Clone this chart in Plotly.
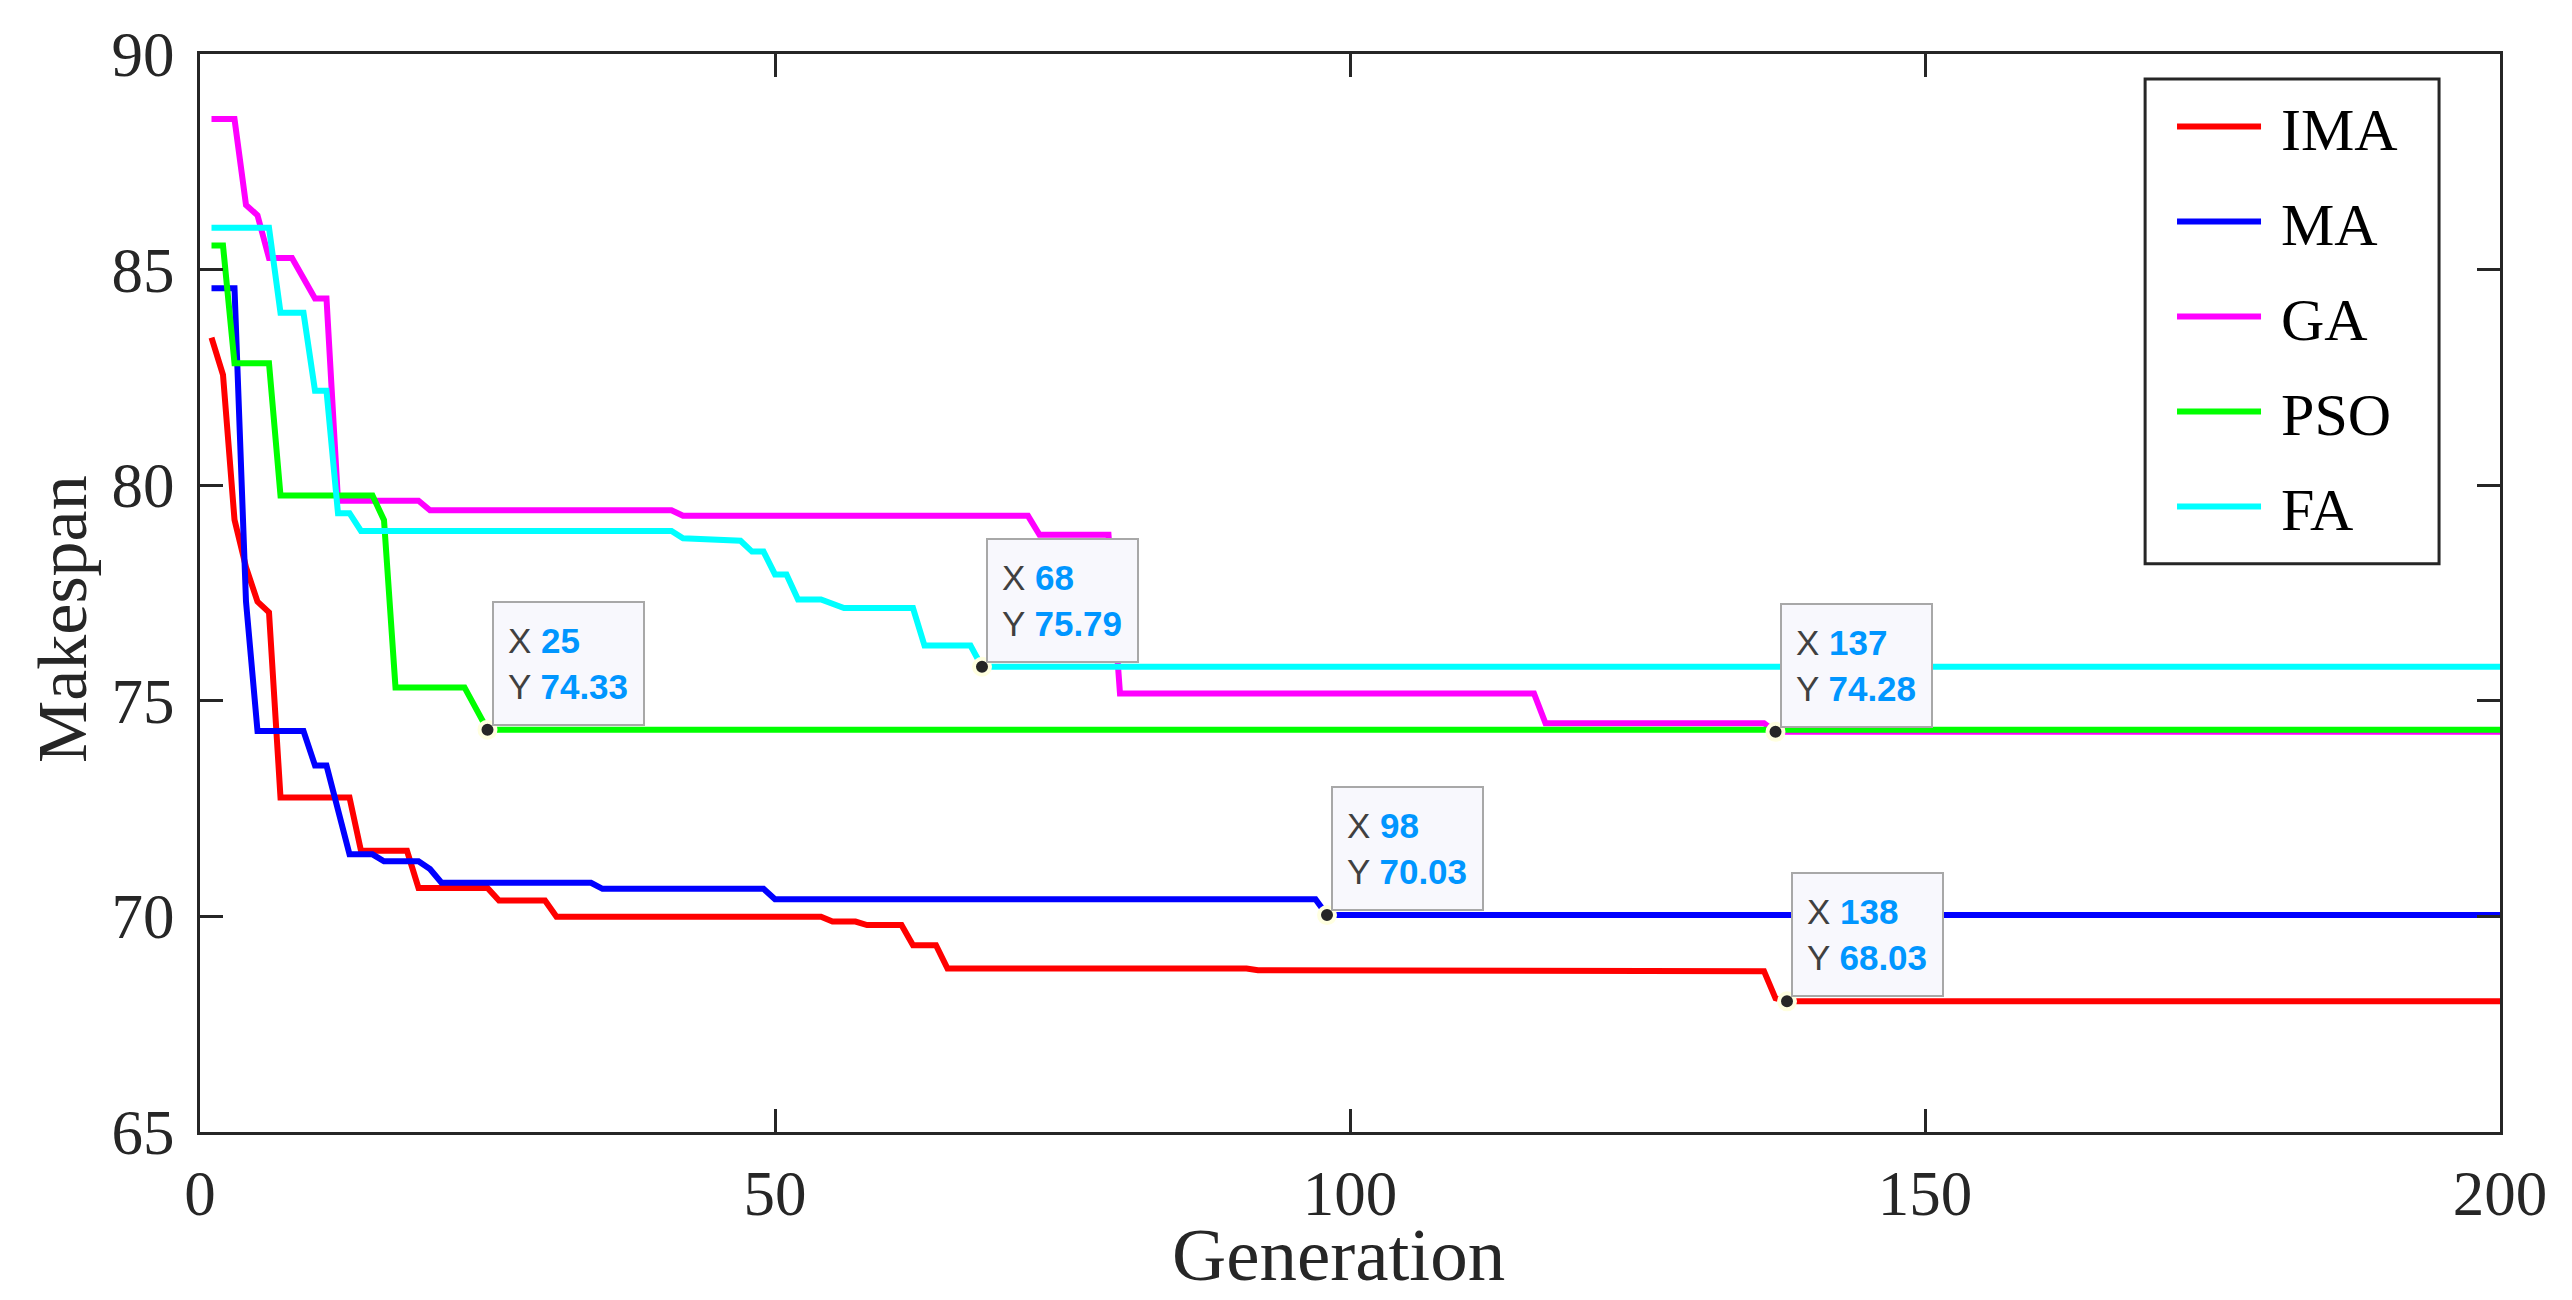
import plotly.graph_objects as go

# ---- data (vertices) ----
ima_x = [1, 2, 3, 4, 5, 6, 7, 13, 14, 18, 19, 25, 26, 30, 31, 54, 55, 57, 58, 61, 62, 64, 65, 91, 92, 132, 133, 136, 137, 138, 200]
ima_y = [83.42, 82.56, 79.2, 78.1, 77.3, 77.05, 72.76, 72.76, 71.52, 71.52, 70.66, 70.66, 70.37, 70.37, 69.99, 69.99,
         69.88, 69.88, 69.8, 69.8, 69.33, 69.33, 68.79, 68.79, 68.75, 68.75, 68.73, 68.73, 68.1, 68.03, 68.03]

ma_x = [1, 3, 4, 5, 9, 10, 11, 13, 15, 16, 19, 20, 21, 34, 35, 49, 50, 97, 98, 200]
ma_y = [84.57, 84.57, 77.3, 74.3, 74.3, 73.5, 73.5, 71.44, 71.44, 71.28, 71.28, 71.1, 70.78, 70.78, 70.64, 70.64,
        70.40, 70.40, 70.03, 70.03]

ga_x = [1, 3, 4, 5, 6, 8, 9, 10, 11, 12, 19, 20, 41, 42, 72, 73, 79, 80, 116, 117, 136, 137, 200]
ga_y = [88.49, 88.49, 86.5, 86.26, 85.27, 85.27, 84.8, 84.33, 84.33, 79.64, 79.64, 79.42, 79.42, 79.29, 79.29,
        78.85, 78.85, 75.17, 75.17, 74.48, 74.48, 74.28, 74.28]

pso_x = [1, 2, 3, 6, 7, 15, 16, 17, 23, 24, 25, 200]
pso_y = [85.56, 85.56, 82.83, 82.83, 79.76, 79.76, 79.19, 75.31, 75.31, 74.8, 74.33, 74.33]

fa_x = [1, 6, 7, 9, 10, 11, 12, 13, 14, 41, 42, 45, 47, 48, 49, 50, 51, 52, 54, 56, 62, 63, 67, 68, 200]
fa_y = [85.97, 85.97, 84.0, 84.0, 82.19, 82.19, 79.35, 79.35, 78.94, 78.94, 78.77, 78.75, 78.71, 78.46, 78.46,
        77.93, 77.93, 77.35, 77.35, 77.15, 77.15, 76.28, 76.28, 75.79, 75.79]

series_names = ["IMA", "MA", "GA", "PSO", "FA"]
series_colors = ["#FF0000", "#0000FF", "#FF00FF", "#00FF00", "#00FFFF"]

# data tips: generation and the series they sit on
tip_x = [25, 68, 98, 137, 138]
tip_series = ["PSO", "FA", "MA", "GA", "IMA"]

x_ticks = [0, 50, 100, 150, 200]
y_ticks = [65, 70, 75, 80, 85, 90]

SERIF = "Liberation Serif, Times New Roman, serif"
SANS = "Liberation Sans, Arial, sans-serif"
INK = "#262626"

# ---- figure ----
data = {"IMA": (ima_x, ima_y), "MA": (ma_x, ma_y), "GA": (ga_x, ga_y),
        "PSO": (pso_x, pso_y), "FA": (fa_x, fa_y)}

fig = go.Figure()
for name, col in zip(series_names, series_colors):
    xs, ys = data[name]
    fig.add_trace(go.Scatter(x=xs, y=ys, mode="lines", name="\u00a0" + name, legendgroup=name,
                             line=dict(color=col, width=6)))

tip_y = []
for gx, s in zip(tip_x, tip_series):
    xs, ys = data[s]
    tip_y.append(ys[xs.index(gx)])

fig.add_trace(go.Scatter(x=tip_x, y=tip_y, mode="markers", showlegend=False,
                         marker=dict(size=16, color=INK, line=dict(color="#FFFFE0", width=4))))

for gx, gy in zip(tip_x, tip_y):
    txt = (f"<span style='color:#404040'>X</span> <b><span style='color:#0096FF'>{gx}</span></b><br>"
           f"<span style='color:#404040'>Y</span> <b><span style='color:#0096FF'>{gy:.2f}</span></b>")
    fig.add_annotation(x=gx, y=gy, xref="x", yref="y", text=txt, showarrow=False,
                       xanchor="left", yanchor="bottom", align="left", valign="middle",
                       xshift=4, yshift=4,
                       bgcolor="#F8F8FD", bordercolor="#A8A8A8", borderwidth=2, borderpad=14,
                       width=121, height=93,
                       font=dict(family=SANS, size=35, color="#404040"))

# axis titles
fig.add_annotation(text="Makespan", xref="paper", yref="paper", x=0, y=0.5, xshift=-138, yshift=-26,
                   textangle=-90, showarrow=False, xanchor="center", yanchor="middle",
                   font=dict(family=SERIF, size=70, color=INK))
fig.add_annotation(text="Generation", xref="paper", yref="paper", x=0.5, y=0, xshift=-12, yshift=-122,
                   showarrow=False, xanchor="center", yanchor="middle",
                   font=dict(family=SERIF, size=75, color=INK))

# legend frame
fig.add_shape(type="rect", xref="paper", yref="paper", x0=0.8457, x1=0.9735, y0=0.5272, y1=0.9769,
              line=dict(color=INK, width=3), fillcolor="white", layer="below")

axis_common = dict(showline=True, mirror="ticks", linecolor=INK, linewidth=3,
                   ticks="inside", ticklen=23, tickwidth=2.5, tickcolor=INK,
                   showgrid=False, zeroline=False,
                   tickfont=dict(family=SERIF, size=63, color=INK))

fig.update_xaxes(range=[0, 200], tickvals=x_ticks, ticktext=[str(v) for v in x_ticks],
                 ticklabelstandoff=4, **axis_common)
fig.update_yaxes(range=[65, 90], tickvals=y_ticks, ticktext=[str(v) for v in y_ticks],
                 ticklabelstandoff=10, **axis_common)

fig.update_layout(
    width=2564, height=1292, autosize=False,
    margin=dict(l=192, r=72, t=41, b=168),
    plot_bgcolor="white", paper_bgcolor="white",
    legend=dict(x=0.8574, y=0.975, xanchor="left", yanchor="top",
                bgcolor="rgba(0,0,0,0)", borderwidth=0,
                font=dict(family=SERIF, size=60, color="black"),
                itemwidth=84, tracegroupgap=14),
    showlegend=True,
)

fig.write_html("out.html")
